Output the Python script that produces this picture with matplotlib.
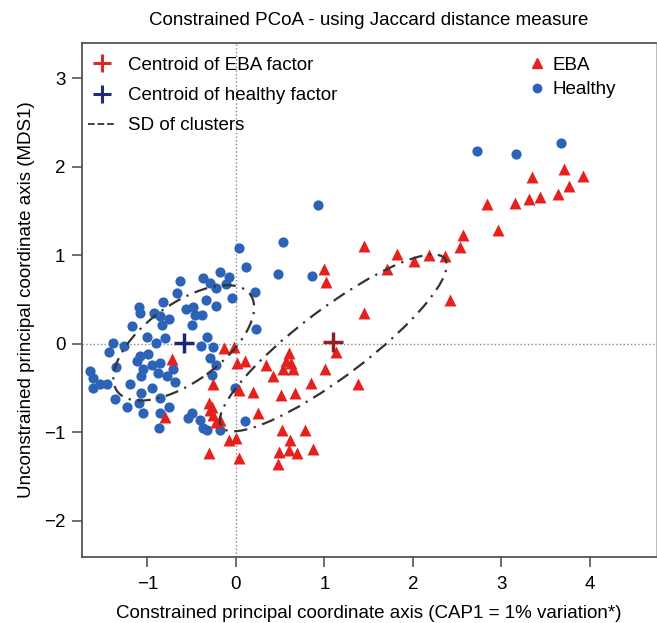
"""
Constrained PCoA (Jaccard) - EBA vs Healthy, with centroids and SD ellipses
"""
import numpy as np
import matplotlib
matplotlib.use('Agg')
import matplotlib.pyplot as plt
from matplotlib.patches import Ellipse
from matplotlib.lines import Line2D

plt.rcParams['font.family'] = ['Liberation Sans', 'DejaVu Sans']

# healthy samples (CAP1, MDS1)
healthy_x = [0.04, 0.11, -0.18, -0.08, -0.37, -0.29, -0.63, -0.22, -0.11, -0.05,
             0.21, -0.34, -0.23, -0.67, -0.82, -1.10, -1.08, -0.93, -0.86, -0.76,
             -0.56, -0.48, -0.46, -0.38, -0.50, 0.23, -1.17, -0.84, -1.01, -0.80,
             -0.90, -1.39, -1.44, -1.27, -0.33, -0.39, -0.26, -0.29, -0.22, -0.27,
             -1.08, -0.99, -1.12, -1.35, -0.95, -0.86, -1.05, -1.07, -0.88, -0.78,
             -0.71, -0.69, -1.65, -1.61, -1.61, -1.54, -1.46, -1.20, -1.07, -0.95,
             -0.86, -1.37, -1.23, -1.10, -1.05, -0.76, -0.86, -0.54, -0.50, -0.41,
             -0.37, -0.33, -0.18, -0.87, 0.10, 0.53, 0.47, 0.86, -0.01, 0.93,
             2.73, 3.17, 3.67]
healthy_y = [1.08, 0.87, 0.81, 0.76, 0.74, 0.69, 0.71, 0.63, 0.67, 0.52,
             0.58, 0.49, 0.43, 0.57, 0.47, 0.42, 0.35, 0.35, 0.31, 0.28,
             0.39, 0.42, 0.33, 0.33, 0.21, 0.17, 0.20, 0.21, 0.08, 0.06,
             0.01, 0.01, -0.09, -0.03, 0.08, -0.02, -0.04, -0.16, -0.24, -0.35,
             -0.14, -0.12, -0.20, -0.26, -0.24, -0.22, -0.28, -0.37, -0.33, -0.37,
             -0.29, -0.43, -0.31, -0.39, -0.50, -0.46, -0.46, -0.46, -0.56, -0.50,
             -0.61, -0.63, -0.71, -0.67, -0.78, -0.71, -0.78, -0.84, -0.78, -0.86,
             -0.95, -0.97, -0.97, -0.95, -0.87, 1.15, 0.79, 0.77, -0.50, 1.57,
             2.18, 2.15, 2.27]

# EBA samples
eba_x = [3.35, 3.71, 3.92, 3.76, 3.64, 3.44, 3.31, 3.15, 2.84, 2.96,
         2.57, 2.53, 2.36, 2.18, 2.01, 1.82, 1.71, 1.45, 1.45, 2.42,
         0.99, 1.02, 1.13, -0.14, -0.02, 0.01, 0.10, 0.34, 0.42, 0.60,
         0.57, 0.53, 0.65, 0.62, 1.01, 0.85, 1.38, -0.26, 0.03, 0.19,
         0.51, 0.67, 0.25, -0.31, -0.29, -0.26, -0.18, -0.23, 0.00, -0.08,
         0.52, 0.78, 0.61, 0.60, 0.69, 0.49, 0.87, 0.48, -0.30, 0.03,
         -0.72, -0.80, -0.27]
eba_y = [1.89, 1.97, 1.90, 1.78, 1.69, 1.66, 1.64, 1.59, 1.58, 1.29,
         1.23, 1.09, 0.99, 1.00, 0.94, 1.02, 0.84, 1.11, 0.35, 0.49,
         0.84, 0.70, -0.09, -0.05, -0.04, -0.22, -0.20, -0.24, -0.37, -0.11,
         -0.20, -0.29, -0.29, -0.22, -0.29, -0.44, -0.46, -0.46, -0.52, -0.55,
         -0.58, -0.56, -0.78, -0.67, -0.75, -0.81, -0.86, -0.89, -1.06, -1.09,
         -0.97, -0.97, -1.09, -1.20, -1.23, -1.22, -1.19, -1.36, -1.23, -1.29,
         -0.17, -0.83, -0.72]

# centroids
centroid_eba = (1.10, 0.02)
centroid_healthy = (-0.59, 0.01)

# SD ellipses: center, width, height, angle
ell_healthy = ((-0.59, 0.01), 1.86, 0.88, 36)
ell_eba = ((1.10, 0.01), 3.16, 0.77, 37)

RED = '#e5211e'
BLUE = '#2d63b6'
DARK = '#333333'
FS = 13.5

fig = plt.figure(figsize=(6.57, 6.23), dpi=100)
ax = fig.add_axes([0.1248, 0.106, 0.874, 0.825])

ax.axhline(0, ls=':', color='#8a8a8a', lw=1.0, zorder=1)
ax.axvline(0, ls=':', color='#8a8a8a', lw=1.0, zorder=1)

ax.scatter(healthy_x, healthy_y, s=54, marker='o', color=BLUE, lw=0, zorder=3)
ax.scatter(eba_x, eba_y, s=74, marker='^', color=RED, lw=0, zorder=3)

for (c, w, h, ang) in [ell_healthy, ell_eba]:
    e = Ellipse(c, w, h, angle=ang, fill=False, ec=DARK, lw=1.6,
                ls=(0, (6, 3, 1, 3)), zorder=4)
    ax.add_patch(e)

ax.plot(*centroid_eba, marker='+', ms=15, mew=2.5, color='#8e2222', zorder=5)
ax.plot(*centroid_healthy, marker='+', ms=15, mew=2.5, color='#1f2470', zorder=5)

ax.set_xlim(-1.74, 4.75)
ax.set_ylim(-2.41, 3.40)
ax.set_xticks([-1, 0, 1, 2, 3, 4])
ax.set_yticks([-2, -1, 0, 1, 2, 3])
ax.tick_params(axis='x', direction='out', length=7, width=1.2, color='#555555',
               labelsize=FS, pad=7)
ax.tick_params(axis='y', direction='out', length=7, width=1.2, color='#555555',
               labelsize=FS, pad=5)
for side in ['left', 'bottom', 'top']:
    ax.spines[side].set_color('#555555')
    ax.spines[side].set_linewidth(1.3)
ax.spines['right'].set_color('#bbbbbb')

ax.set_title('Constrained PCoA - using Jaccard distance measure', fontsize=FS, pad=13)
ax.set_xlabel('Constrained principal coordinate axis (CAP1 = 1% variation*)',
              fontsize=FS, labelpad=8)
ax.set_ylabel('Unconstrained principal coordinate axis (MDS1)', fontsize=FS, labelpad=6)

h1 = [Line2D([], [], ls='none', marker='+', ms=13, mew=2.2, color='#d42a2a'),
      Line2D([], [], ls='none', marker='+', ms=13, mew=2.2, color='#1f2a80'),
      Line2D([], [], ls='--', lw=1.3, color=DARK)]
leg1 = ax.legend(h1, ['Centroid of EBA factor', 'Centroid of healthy factor', 'SD of clusters'],
                 loc='upper left', bbox_to_anchor=(0.0, 0.985), frameon=False,
                 fontsize=FS, handlelength=1.45, handletextpad=0.7,
                 labelspacing=0.7, borderpad=0.32, borderaxespad=0.0)
ax.add_artist(leg1)

h2 = [Line2D([], [], ls='none', marker='^', ms=7.5, color=RED),
      Line2D([], [], ls='none', marker='o', ms=6, color=BLUE)]
ax.legend(h2, ['EBA', 'Healthy'], loc='upper left', bbox_to_anchor=(0.767, 0.988),
          frameon=False, fontsize=FS, handlelength=0.8, handletextpad=0.4,
          labelspacing=0.4, borderpad=0.4, borderaxespad=0.0)

plt.savefig('out.png', dpi=100)
plt.close()
